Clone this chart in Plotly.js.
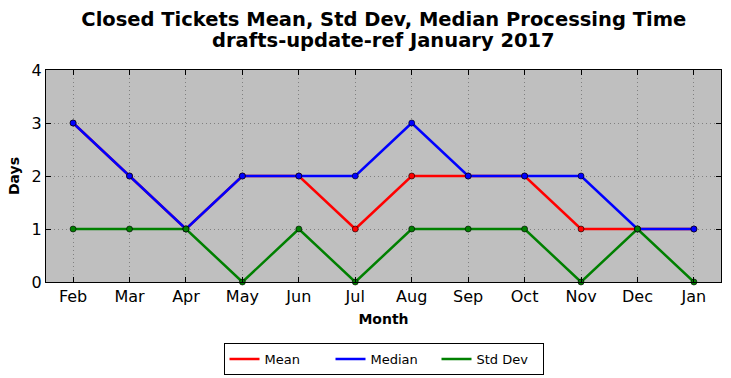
<!DOCTYPE html>
<html><head><meta charset="utf-8">
<script src="https://cdn.plot.ly/plotly-3.0.1.min.js"></script>
<style>html,body{margin:0;padding:0;background:#fff;}#chart{width:731px;height:378px;}</style>
</head><body><div id="chart"></div>
<script>
const months = ["Feb","Mar","Apr","May","Jun","Jul","Aug","Sep","Oct","Nov","Dec","Jan"];
const meanVals = [3,2,1,2,2,1,2,2,2,1,1,1];
const medianVals = [3,2,1,2,2,2,3,2,2,2,1,1];
const stdVals = [1,1,1,0,1,0,1,1,1,0,1,0];
const titleLine1 = 'Closed Tickets Mean, Std Dev, Median Processing Time';
const titleLine2 = 'drafts-update-ref January 2017';

const series = [['Mean', meanVals, '#ff0000'], ['Median', medianVals, '#0000ff'], ['Std Dev', stdVals, '#008000']];
const data = [];
series.forEach(([name, y, color]) => {
  data.push({x: months, y: y, name: name, type:'scatter', mode:'lines',
    line:{color:color, width:2.5}, cliponaxis:false});
});
series.forEach(([name, y, color]) => {
  data.push({x: months, y: y, name: name, type:'scatter', mode:'markers', showlegend:false,
    marker:{color:color, size:6, line:{color:'#000', width:0.6}}, cliponaxis:false});
});
const layout = {
  width:731, height:378,
  margin:{l:46, r:10, t:70, b:96},
  paper_bgcolor:'#fff', plot_bgcolor:'#bfbfbf',
  font: {family:'DejaVu Sans, sans-serif', color:'#000'},
  title:{text:'<b>' + titleLine1 + '</b>', x:0.525, xanchor:'center', yref:'container', y:1-19/378, yanchor:'middle', font:{family:'DejaVu Sans, sans-serif', size:19.5, color:'#000'}},
  annotations:[{text:'<b>' + titleLine2 + '</b>', xref:'paper', yref:'paper', x:0.5, xanchor:'center', y:1+29/212, yanchor:'middle', showarrow:false, font:{family:'DejaVu Sans, sans-serif', size:19.5, color:'#000'}}],
  xaxis:{type:'category', range:[-0.48, 11.48], showgrid:true, gridcolor:'#808080', griddash:'1px,3px', gridwidth:1,
    ticks:'inside', ticklen:5, tickcolor:'#000', mirror:'ticks', showline:true, linecolor:'#000', linewidth:1,
    tickfont:{size:16, family:'DejaVu Sans, sans-serif'}, automargin:false,
    title:{text:'<b>Month</b>', font:{size:14, family:'DejaVu Sans, sans-serif'}, standoff:8}, zeroline:false},
  yaxis:{range:[0,4], dtick:1, showgrid:true, gridcolor:'#808080', griddash:'1px,3px', gridwidth:1,
    ticks:'inside', ticklen:5, tickcolor:'#000', mirror:'ticks', showline:true, linecolor:'#000', linewidth:1,
    tickfont:{size:16, family:'DejaVu Sans, sans-serif'}, automargin:false,
    title:{text:'<b>Days</b>', font:{size:14, family:'DejaVu Sans, sans-serif'}, standoff:8}, zeroline:false},
  showlegend:true,
  legend:{orientation:'h', x:0.5, xanchor:'center', yref:'container', y:1-343/378, yanchor:'top', bordercolor:'#000', borderwidth:1,
    font:{size:13, family:'DejaVu Sans, sans-serif'}, bgcolor:'#fff', traceorder:'normal', entrywidth:61, entrywidthmode:'pixels'}
};
Plotly.newPlot('chart', data, layout, {displayModeBar:false, staticPlot:true});
</script></body></html>
